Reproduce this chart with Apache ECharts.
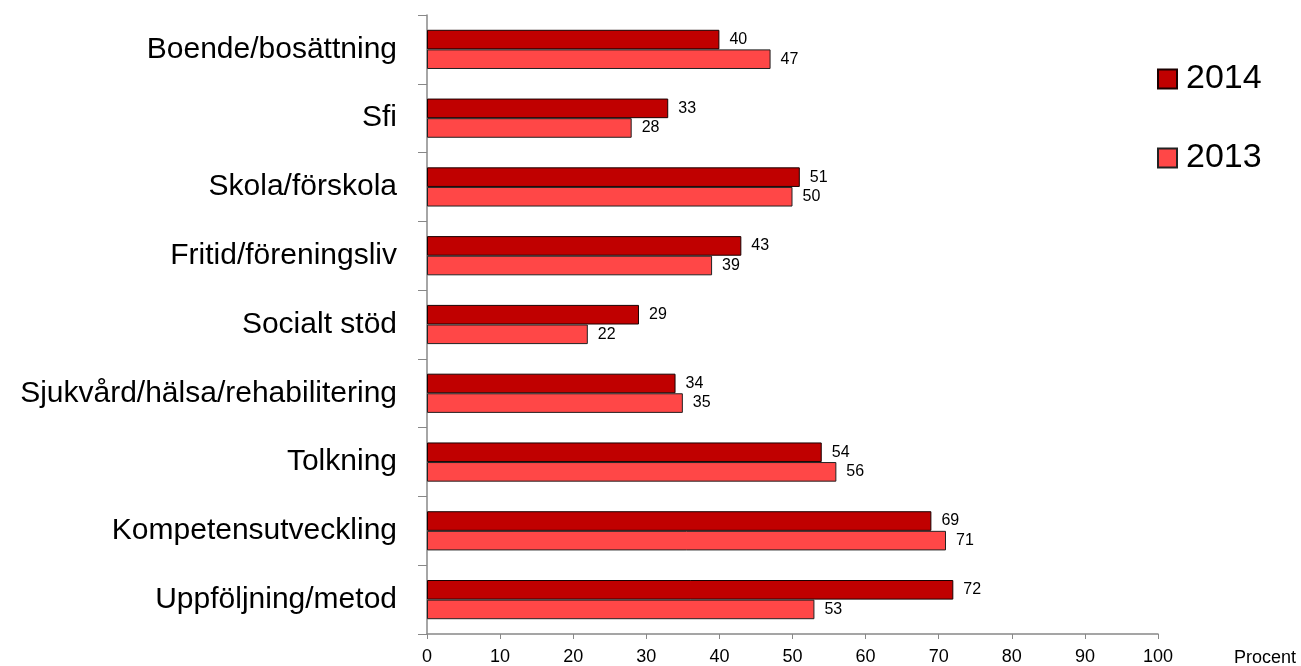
<!DOCTYPE html>
<html><head><meta charset="utf-8">
<script src="https://cdn.jsdelivr.net/npm/echarts@6/dist/echarts.min.js"></script>
<style>html,body{margin:0;padding:0;background:#fff}#c{width:1301px;height:666px}</style>
</head><body><div id="c"></div>
<script>
const categories = ["Boende/bosättning","Sfi","Skola/förskola","Fritid/föreningsliv","Socialt stöd","Sjukvård/hälsa/rehabilitering","Tolkning","Kompetensutveckling","Uppföljning/metod"];
const values2014 = [40,33,51,43,29,34,54,69,72];
const values2013 = [47,28,50,39,22,35,56,71,53];
const xTicks = [0,10,20,30,40,50,60,70,80,90,100];

const FONT = 'Liberation Sans, Arial, sans-serif';
const chart = echarts.init(document.getElementById('c'));
const lbl = {show:true, position:'right', distance:10, color:'#000', fontSize:16, fontFamily:FONT};
chart.setOption({
  animation:false,
  textStyle:{fontFamily:FONT},
  grid:{left:427, right:143, top:15, bottom:31, containLabel:false},
  legend:{
    orient:'vertical', left:1157, top:62, padding:0, itemWidth:19, itemHeight:19, itemGap:45,
    icon:'rect',
    textStyle:{fontSize:34, color:'#000', padding:[0,0,0,4]},
    data:['2014','2013']
  },
  xAxis:{type:'value', min:0, max:100, interval:10,
    axisLine:{show:true, lineStyle:{color:'#888', width:1.5}},
    axisTick:{show:true, length:5, lineStyle:{color:'#888'}},
    splitLine:{show:false},
    axisLabel:{color:'#000', fontSize:18, margin:14, formatter:v=>xTicks.includes(v)?String(v):''}
  },
  yAxis:{type:'category', data:categories, inverse:true,
    axisLine:{show:true, lineStyle:{color:'#888', width:1.5}},
    axisTick:{show:true, length:9, lineStyle:{color:'#888'}},
    axisLabel:{color:'#000', fontSize:30, margin:30}
  },
  series:[
    {name:'2014', type:'bar', data:values2014, barGap:'0%', barCategoryGap:'43%',
     itemStyle:{color:'#C00000', borderColor:'#1a0000', borderWidth:1}, label:lbl},
    {name:'2013', type:'bar', data:values2013, barGap:'0%', barCategoryGap:'43%',
     itemStyle:{color:'#FF4747', borderColor:'#222', borderWidth:1}, label:lbl}
  ],
  graphic:[{type:'text', left:1234, top:649, style:{text:'Procent', fontSize:18, fill:'#000', fontFamily:FONT}}]
});
</script></body></html>
